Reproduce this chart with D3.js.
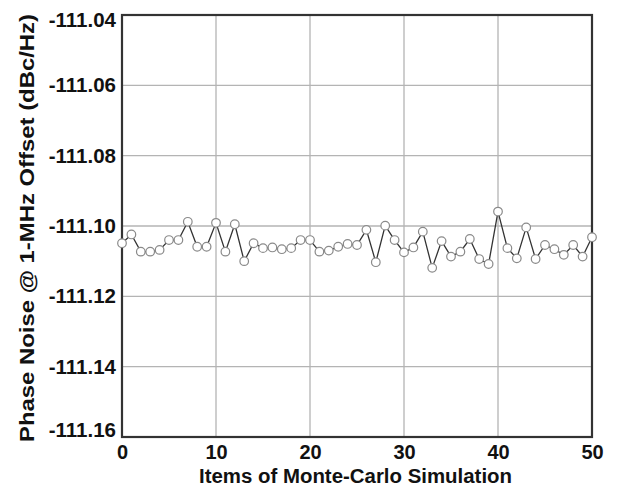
<html>
<head>
    <meta charset="utf-8">
    <style>
        body { margin: 0; background: #fff; }
        text { font-family: "Liberation Sans", Arial, sans-serif; font-weight: bold; fill: #111; }
        .grid line { stroke: #b4b4b4; stroke-width: 1.3; }
        .axis path, .axis line { display: none; }
    </style>
    <script src="https://d3js.org/d3.v7.min.js"></script>
</head>
<body>
    <svg width="617" height="489"></svg>

    <script>
        // Monte-Carlo run number and phase noise value
        var items = d3.range(0, 51);
        var noise = [
            -111.1049, -111.1024, -111.1073, -111.1073, -111.1068, -111.1040, -111.1040, -111.0988, -111.1059, -111.1059,
            -111.0991, -111.1073, -111.0995, -111.1100, -111.1049, -111.1063, -111.1061, -111.1066, -111.1063, -111.1040,
            -111.1040, -111.1073, -111.1070, -111.1059, -111.1051, -111.1054, -111.1011, -111.1103, -111.0999, -111.1040,
            -111.1075, -111.1061, -111.1016, -111.1119, -111.1043, -111.1087, -111.1073, -111.1037, -111.1094, -111.1108,
            -111.0959, -111.1063, -111.1092, -111.1004, -111.1094, -111.1054, -111.1066, -111.1082, -111.1054, -111.1087,
            -111.1032
        ];
        var xTicks = [0, 10, 20, 30, 40, 50];
        var yTicks = [-111.16, -111.14, -111.12, -111.10, -111.08, -111.06, -111.04];

        var svg = d3.select("svg");
        var pLeft = 122, pTop = 15, pRight = 592, pBottom = 437;

        var x = d3.scaleLinear().domain([0, 50]).range([pLeft, pRight]);
        var y = d3.scaleLinear().domain([-111.16, -111.04]).range([pBottom, pTop]);

        // grid lines
        var grid = svg.append("g").attr("class", "grid");
        grid.selectAll(".gx").data(xTicks.slice(1, -1)).enter().append("line")
            .attr("x1", function(d){ return x(d); }).attr("x2", function(d){ return x(d); })
            .attr("y1", pTop).attr("y2", pBottom);
        grid.selectAll(".gy").data(yTicks.slice(1, -1)).enter().append("line")
            .attr("x1", pLeft).attr("x2", pRight)
            .attr("y1", function(d){ return y(d); }).attr("y2", function(d){ return y(d); });

        // frame
        svg.append("rect")
            .attr("x", pLeft).attr("y", pTop)
            .attr("width", pRight - pLeft).attr("height", pBottom - pTop)
            .attr("fill", "none").attr("stroke", "#333").attr("stroke-width", 2.2);

        // axes
        svg.append("g").attr("class", "axis")
            .attr("transform", "translate(0," + pBottom + ")")
            .call(d3.axisBottom(x).tickValues(xTicks).tickSize(0).tickPadding(8))
            .selectAll("text").style("font-size", "20px").attr("fill", "#111");

        var yAxis = svg.append("g").attr("class", "axis")
            .attr("transform", "translate(" + pLeft + ",0)")
            .call(d3.axisLeft(y).tickValues(yTicks).tickSize(0).tickPadding(6)
                .tickFormat(function(d){ return d.toFixed(2); }));
        yAxis.selectAll("text").style("font-size", "20.5px").attr("fill", "#111")
            .attr("dy", function(d){
                if (d === -111.16) return "-0.02em";
                if (d === -111.04) return "0.57em";
                return "0.32em";
            });

        // line and markers
        var line = d3.line()
            .x(function(d, i){ return x(items[i]); })
            .y(function(d){ return y(d); });

        svg.append("path")
            .datum(noise)
            .attr("d", line)
            .attr("fill", "none")
            .attr("stroke", "#333")
            .attr("stroke-width", 1.3);

        svg.selectAll(".dot").data(noise).enter().append("circle")
            .attr("class", "dot")
            .attr("cx", function(d, i){ return x(items[i]); })
            .attr("cy", function(d){ return y(d); })
            .attr("r", 4.3)
            .attr("fill", "#fff")
            .attr("stroke", "#8a8a8a")
            .attr("stroke-width", 1.2);

        // titles
        svg.append("text")
            .attr("x", 355.5)
            .attr("y", 483)
            .attr("text-anchor", "middle")
            .attr("textLength", 313)
            .attr("lengthAdjust", "spacingAndGlyphs")
            .style("font-size", "20px")
            .text("Items of Monte-Carlo Simulation");

        svg.append("text")
            .attr("transform", "translate(33.5,228) rotate(-90)")
            .attr("text-anchor", "middle")
            .attr("textLength", 428)
            .attr("lengthAdjust", "spacingAndGlyphs")
            .style("font-size", "21px")
            .text("Phase Noise @ 1-MHz Offset (dBc/Hz)");
    </script>
</body>
</html>
